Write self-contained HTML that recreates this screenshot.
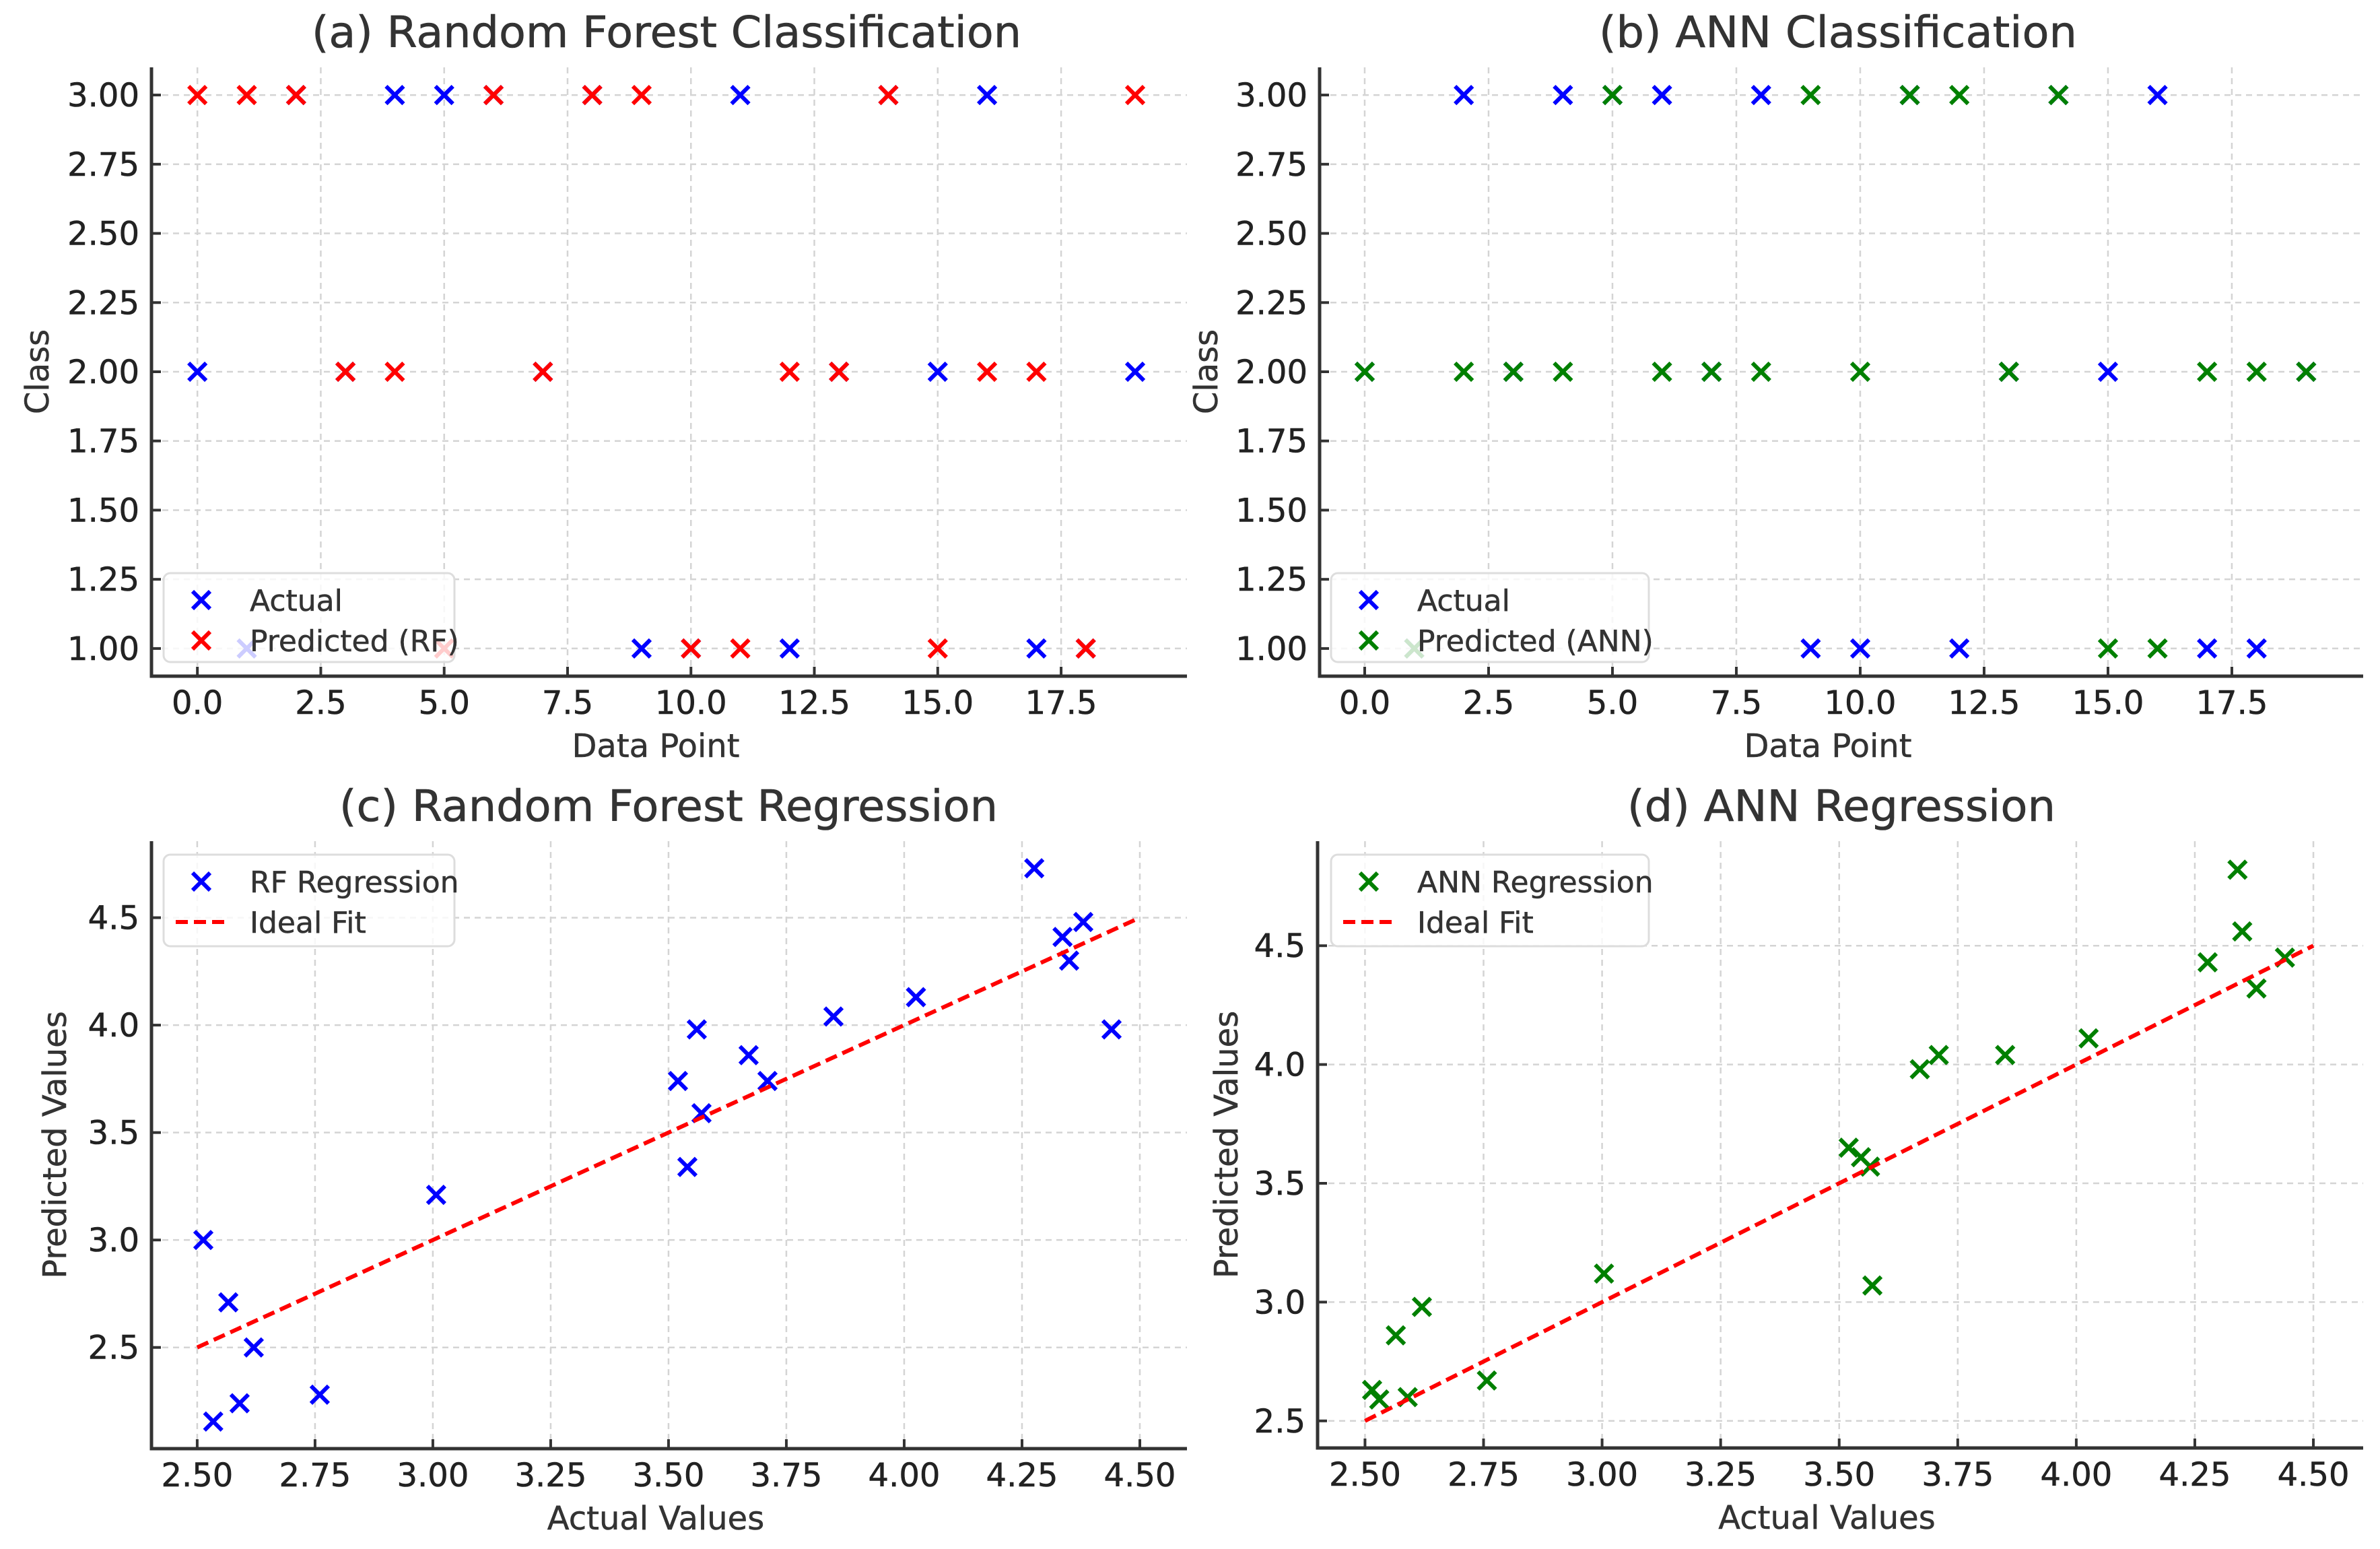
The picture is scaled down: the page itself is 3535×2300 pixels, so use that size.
<!DOCTYPE html>
<html><head><meta charset="utf-8"><style>
html,body{margin:0;padding:0;background:#fff;}
svg{display:block;font-family:"DejaVu Sans","Liberation Sans",sans-serif;}
</style></head><body>
<svg id="fig" width="3535" height="2300" viewBox="0 0 3535 2300" xmlns="http://www.w3.org/2000/svg">
<rect width="3535" height="2300" fill="#fff"/>
</svg>
<script>
// ---- Panel (a) / (b) data ----
const clsIndex = [0,1,2,3,4,5,6,7,8,9,10,11,12,13,14,15,16,17,18,19];
const clsActual = [2,1,3,2,3,3,3,2,3,1,1,3,1,2,3,2,3,1,1,2];
const rfPred = [3,3,3,2,2,1,3,2,3,3,1,1,2,2,3,1,2,2,1,3];
const annPred = [2,1,2,2,2,3,2,2,2,3,2,3,3,2,3,1,1,2,2,2];
const clsXTicks = [0,2.5,5,7.5,10,12.5,15,17.5];
const clsXTickLabels = ["0.0","2.5","5.0","7.5","10.0","12.5","15.0","17.5"];
const clsYTicks = [1,1.25,1.5,1.75,2,2.25,2.5,2.75,3];
const clsYTickLabels = ["1.00","1.25","1.50","1.75","2.00","2.25","2.50","2.75","3.00"];
// ---- Panel (c) data ----
const rfRegActual = [2.513,2.566,2.62,2.59,2.534,2.76,3.007,3.52,3.56,3.57,3.54,3.67,3.71,3.85,4.025,4.276,4.336,4.35,4.38,4.44];
const rfRegPred = [3.0,2.71,2.50,2.24,2.155,2.28,3.21,3.74,3.98,3.59,3.34,3.86,3.74,4.04,4.13,4.73,4.41,4.30,4.48,3.98];
// ---- Panel (d) data ----
const annRegActual = [2.515,2.53,2.59,2.565,2.62,2.757,3.004,3.52,3.546,3.565,3.57,3.67,3.71,3.85,4.026,4.277,4.34,4.35,4.38,4.44];
const annRegPred = [2.63,2.59,2.60,2.86,2.98,2.67,3.12,3.65,3.61,3.57,3.07,3.98,4.04,4.04,4.11,4.43,4.82,4.56,4.32,4.45];
const regXTicks = [2.5,2.75,3.0,3.25,3.5,3.75,4.0,4.25,4.5];
const regXTickLabels = ["2.50","2.75","3.00","3.25","3.50","3.75","4.00","4.25","4.50"];
const regYTicks = [2.5,3.0,3.5,4.0,4.5];
const regYTickLabels = ["2.5","3.0","3.5","4.0","4.5"];
const idealFit = [2.5,4.5];

const NS="http://www.w3.org/2000/svg";
const svg=document.getElementById('fig');
function mk(tag,attrs,parent){const e=document.createElementNS(NS,tag);for(const k in attrs)e.setAttribute(k,attrs[k]);(parent||svg).appendChild(e);return e;}
function txt(s,attrs,parent){const e=mk('text',attrs,parent);e.textContent=s;return e;}
function cross(g,x,y,color){
  return mk('path',{d:`M${x-13} ${y-13}L${x+13} ${y+13}M${x-13} ${y+13}L${x+13} ${y-13}`,stroke:color,'stroke-width':6,fill:'none'},g);
}
function panel(o){
  const g=mk('g',{});
  
  
  const sx=v=>o.L+(v-o.x0)/(o.x1-o.x0)*(o.R-o.L);
  const sy=v=>o.B-(v-o.y0)/(o.y1-o.y0)*(o.B-o.T);
  const grid=mk('g',{},g);
  
  
  o.xt.forEach(v=>mk('line',{x1:sx(v),x2:sx(v),y1:o.T,y2:o.B,stroke:'#d4d4d4','stroke-width':2.5,'stroke-dasharray':'9 7'},grid));
  o.yt.forEach(v=>mk('line',{x1:o.L,x2:o.R,y1:sy(v),y2:sy(v),stroke:'#d4d4d4','stroke-width':2.5,'stroke-dasharray':'9 7'},grid));
  o.xt.forEach((v,i)=>{
    mk('line',{x1:sx(v),x2:sx(v),y1:o.B,y2:o.B-14,stroke:'#333','stroke-width':4},g);
    const t=txt(o.xl[i],{x:sx(v),y:o.B+56,'font-size':48,'text-anchor':'middle',fill:'#222','stroke':'#222','stroke-width':0.6},g);
    
    
  });
  o.yt.forEach((v,i)=>{
    mk('line',{x1:o.L,x2:o.L+14,y1:sy(v),y2:sy(v),stroke:'#333','stroke-width':4},g);
    const t=txt(o.yl[i],{x:o.L-18,y:sy(v)+17,'font-size':48,'text-anchor':'end',fill:'#222','stroke':'#222','stroke-width':0.6},g);
    
    
  });
  const sp=mk('path',{d:`M${o.L} ${o.T}L${o.L} ${o.B}L${o.R} ${o.B}`,stroke:'#333','stroke-width':5,fill:'none'},g);
  
  
  const ti=txt(o.title,{x:o.tcx,y:o.T-30,'font-size':64,'text-anchor':'middle',fill:'#333','stroke':'#333','stroke-width':0.6,textLength:o.tw,lengthAdjust:'spacingAndGlyphs'},g);
  
  
  const xl=txt(o.xlabel,{x:(o.L+o.R)/2-20,y:o.B+120,'font-size':48,'text-anchor':'middle',fill:'#333','stroke':'#333','stroke-width':0.5},g);
  
  
  const yl=txt(o.ylabel,{x:0,y:0,'font-size':48,'text-anchor':'middle',fill:'#333','stroke':'#333','stroke-width':0.5,transform:`translate(${o.ylx},${(o.T+o.B)/2}) rotate(-90)`},g);
  
  
  return {g:g,sx:sx,sy:sy};
}
function legend(g,x,y,w,h,entries){
  const lg=mk('g',{},g);
  
  
  mk('rect',{x:x,y:y,width:w,height:h,rx:10,fill:'#fff','fill-opacity':0.8,stroke:'#ddd','stroke-width':3},lg);
  entries.forEach((e,i)=>{
    const cy=y+40+i*60;
    const eg=mk('g',{},lg);
    
    
    if(e.type==='x') cross(eg,x+56,cy,e.color);
    else mk('line',{x1:x+18,x2:x+96,y1:cy,y2:cy,stroke:e.color,'stroke-width':6,'stroke-dasharray':'18 9'},eg);
    txt(e.label,{x:x+128,y:cy+16,'font-size':44,fill:'#333','stroke':'#333','stroke-width':0.5},eg);
  });
}
function scatter(p,xs,ys,color,name){
  const sg=mk('g',{},p.g);
  
  
  xs.forEach((x,i)=>{
    const c=cross(sg,p.sx(x),p.sy(ys[i]),color);
    
    
  });
}
function fitLine(p){
  const l=mk('line',{x1:p.sx(idealFit[0]),y1:p.sy(idealFit[0]),x2:p.sx(idealFit[1]),y2:p.sy(idealFit[1]),stroke:'#ff0000','stroke-width':6,'stroke-dasharray':'18 9'},p.g);
  
  
}

const A=panel({name:'panel-a-rf-classification',L:225,R:1763,T:100,B:1004,x0:-0.93,x1:20.05,y0:0.9,y1:3.1,
  xt:clsXTicks,xl:clsXTickLabels,yt:clsYTicks,yl:clsYTickLabels,title:'(a) Random Forest Classification',tcx:990,tw:1054,
  xlabel:'Data Point',ylabel:'Class',ylx:72});
scatter(A,clsIndex,clsActual,'#0000ff','actual-series');
scatter(A,clsIndex,rfPred,'#ff0000','predicted-rf-series');
legend(A.g,243,851,432,132,[{type:'x',color:'#0000ff',label:'Actual'},{type:'x',color:'#ff0000',label:'Predicted (RF)'}]);

const B=panel({name:'panel-b-ann-classification',L:1960,R:3510,T:100,B:1004,x0:-0.91,x1:20.15,y0:0.9,y1:3.1,
  xt:clsXTicks,xl:clsXTickLabels,yt:clsYTicks,yl:clsYTickLabels,title:'(b) ANN Classification',tcx:2730,tw:710,
  xlabel:'Data Point',ylabel:'Class',ylx:1808});
scatter(B,clsIndex,clsActual,'#0000ff','actual-series');
scatter(B,clsIndex,annPred,'#008000','predicted-ann-series');
legend(B.g,1977,851,472,132,[{type:'x',color:'#0000ff',label:'Actual'},{type:'x',color:'#008000',label:'Predicted (ANN)'}]);

const C=panel({name:'panel-c-rf-regression',L:225,R:1763,T:1249,B:2151,x0:2.403,x1:4.60,y0:2.029,y1:4.856,
  xt:regXTicks,xl:regXTickLabels,yt:regYTicks,yl:regYTickLabels,title:'(c) Random Forest Regression',tcx:993,tw:978,
  xlabel:'Actual Values',ylabel:'Predicted Values',ylx:98});
scatter(C,rfRegActual,rfRegPred,'#0000ff','rf-regression-series');
fitLine(C);
legend(C.g,243,1269,432,136,[{type:'x',color:'#0000ff',label:'RF Regression'},{type:'l',color:'#ff0000',label:'Ideal Fit'}]);

const D=panel({name:'panel-d-ann-regression',L:1957,R:3510,T:1249,B:2150,x0:2.40,x1:4.605,y0:2.386,y1:4.94,
  xt:regXTicks,xl:regXTickLabels,yt:regYTicks,yl:regYTickLabels,title:'(d) ANN Regression',tcx:2735,tw:636,
  xlabel:'Actual Values',ylabel:'Predicted Values',ylx:1838});
scatter(D,annRegActual,annRegPred,'#008000','ann-regression-series');
fitLine(D);
legend(D.g,1977,1269,472,136,[{type:'x',color:'#008000',label:'ANN Regression'},{type:'l',color:'#ff0000',label:'Ideal Fit'}]);
</script>
</body></html>
